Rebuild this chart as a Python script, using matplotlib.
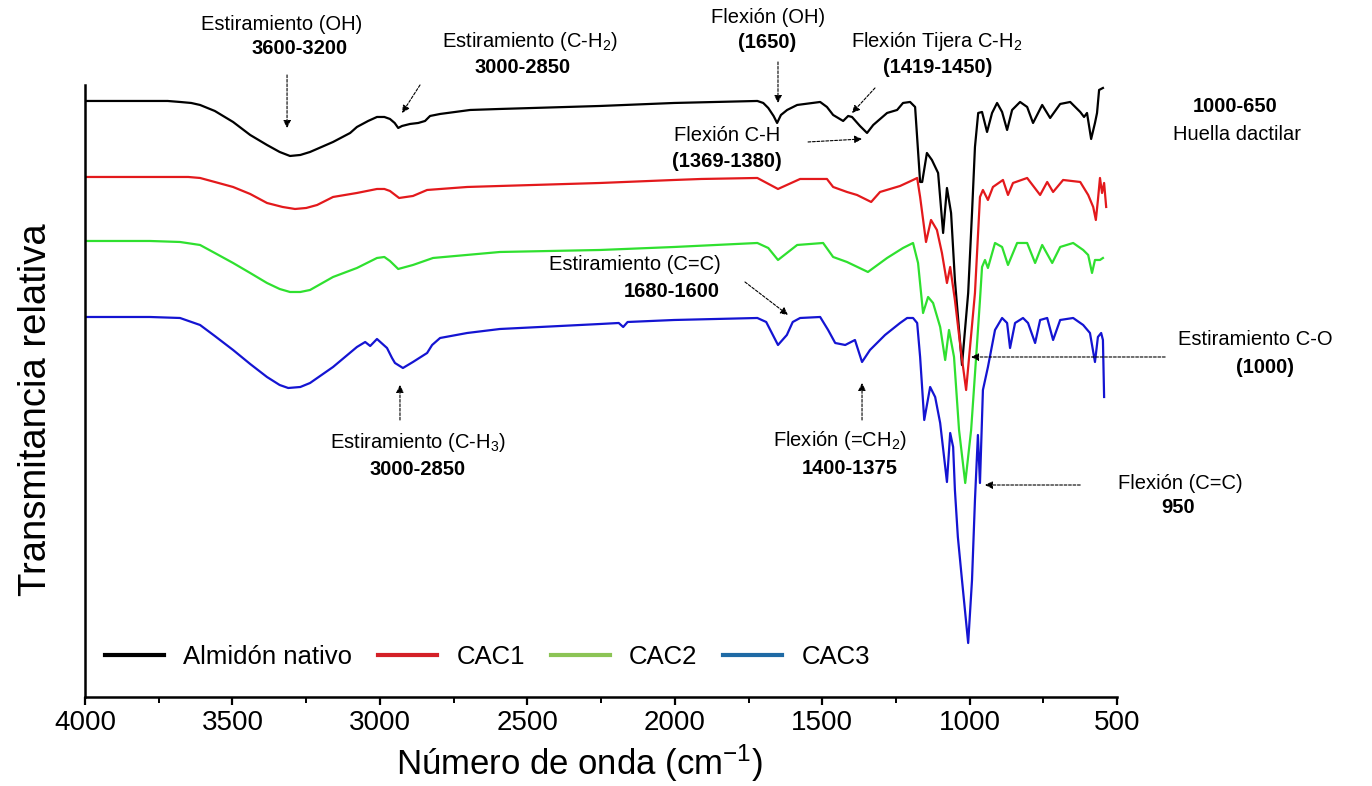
import matplotlib
matplotlib.use("Agg")
import matplotlib.pyplot as plt
from matplotlib.lines import Line2D

plt.rcParams['font.family'] = ['Liberation Sans', 'DejaVu Sans']
plt.rcParams['mathtext.fontset'] = 'custom'
plt.rcParams['mathtext.rm'] = 'Liberation Sans'
plt.rcParams['mathtext.it'] = 'Liberation Sans:italic'
plt.rcParams['mathtext.bf'] = 'Liberation Sans:bold'

# Espectros FTIR (transmitancia relativa desplazada)
wn_nativo = [4000, 3780, 3720, 3678, 3640, 3610, 3560, 3498, 3440, 3383, 3340, 3305, 3270, 3237,
             3159, 3101, 3078, 3040, 3010, 2985, 2966, 2950, 2938, 2925, 2898, 2870, 2847, 2830,
             2796, 2694, 2593, 2253, 2002, 1720, 1700, 1683, 1665, 1653, 1640, 1619, 1585, 1507,
             1484, 1463, 1429, 1412, 1399, 1372, 1348, 1327, 1280, 1246, 1226, 1202, 1185, 1168,
             1161, 1145, 1128, 1107, 1090, 1077, 1063, 1050, 1026, 1005, 992, 982, 971, 958, 941,
             924, 907, 890, 873, 856, 829, 805, 785, 754, 727, 693, 659, 625, 612, 602, 588, 575,
             568, 561, 548]
t_nativo = [596, 596, 596, 595, 594, 592, 586, 575, 562, 552, 545, 541, 542, 545,
            555, 564, 570, 576, 580, 580, 578, 574, 569, 571, 573, 574, 576, 581,
            583, 587, 588, 591, 594, 596, 594, 589, 581, 574, 582, 587, 592, 595,
            590, 582, 576, 581, 580, 571, 564, 572, 584, 587, 594, 595, 590, 515,
            515, 544, 537, 524, 464, 509, 484, 417, 332, 404, 484, 550, 584, 585, 565,
            584, 594, 585, 567, 587, 595, 590, 574, 592, 579, 593, 595, 585, 580, 584, 558, 574,
            584, 607, 609]

wn_cac1 = [4000, 3780, 3650, 3610, 3560, 3498, 3440, 3383, 3330, 3288, 3250, 3213, 3159, 3078,
           3010, 2985, 2966, 2935, 2888, 2840, 2704, 2593, 2253, 2002, 1910, 1720, 1650, 1620,
           1575, 1484, 1463, 1416, 1382, 1334, 1304, 1236, 1192, 1178, 1168, 1148, 1131, 1111,
           1094, 1077, 1066, 1050, 1030, 1012, 982, 965, 955, 938, 921, 887, 870, 853, 805, 761,
           737, 717, 683, 625, 598, 581, 572, 565, 558, 551, 544, 537]
t_cac1 = [520, 520, 520, 519, 515, 510, 503, 494, 490, 488, 489, 492, 500, 504,
          508, 508, 506, 499, 501, 507, 510, 511, 514, 517, 518, 519, 508, 512,
          518, 518, 510, 505, 502, 495, 505, 511, 517, 519, 500, 455, 477, 467,
          444, 414, 430, 397, 347, 307, 404, 500, 507, 497, 510, 517, 502, 514, 519, 502,
          515, 505, 517, 515, 502, 490, 477, 497, 519, 504, 514, 490]

wn_cac2 = [4000, 3780, 3678, 3610, 3560, 3498, 3440, 3383, 3340, 3305, 3270, 3237, 3159, 3078,
           3010, 2985, 2966, 2938, 2888, 2820, 2593, 2253, 2002, 1720, 1683, 1650, 1585, 1497,
           1463, 1416, 1345, 1280, 1226, 1192, 1175, 1158, 1141, 1124, 1100, 1083, 1070, 1053,
           1036, 1015, 995, 978, 965, 958, 948, 938, 914, 890, 870, 839, 805, 778, 754, 720,
           693, 649, 615, 598, 585, 575, 558, 548]
t_cac2 = [456, 456, 455, 452, 444, 434, 424, 414, 408, 405, 405, 407, 420, 429,
          439, 440, 436, 428, 432, 439, 445, 447, 450, 454, 449, 437, 452, 454,
          440, 435, 425, 439, 449, 454, 434, 384, 400, 394, 370, 337, 367, 340,
          267, 214, 267, 340, 397, 430, 437, 429, 454, 450, 432, 454, 454, 434, 452, 434,
          450, 454, 447, 442, 424, 437, 437, 439]

wn_cac3 = [4000, 3780, 3678, 3610, 3560, 3498, 3440, 3383, 3340, 3311, 3270, 3237, 3159, 3078,
           3050, 3033, 3010, 2976, 2959, 2949, 2922, 2888, 2840, 2823, 2796, 2704, 2593, 2253,
           2190, 2175, 2160, 2002, 1720, 1690, 1650, 1620, 1600, 1575, 1507, 1480, 1456, 1422,
           1389, 1365, 1338, 1287, 1236, 1212, 1192, 1178, 1168, 1154, 1134, 1117, 1100, 1077,
           1066, 1056, 1050, 1040, 1026, 1005, 992, 982, 972, 965, 955, 938, 914, 890, 873, 863,
           846, 819, 802, 778, 761, 737, 717, 693, 649, 615, 592, 575, 565, 554, 548, 544]
t_cac3 = [380, 380, 379, 372, 361, 347, 333, 320, 312, 309, 310, 314, 330, 350,
          355, 351, 358, 349, 339, 334, 329, 335, 344, 352, 359, 364, 368, 373,
          374, 370, 375, 377, 379, 375, 352, 362, 375, 379, 380, 367, 354, 352,
          357, 335, 347, 362, 374, 379, 379, 374, 340, 277, 310, 300, 274, 215,
          264, 250, 207, 160, 117, 54, 117, 197, 262, 214, 307, 330, 367, 379, 374, 349,
          374, 379, 374, 354, 377, 379, 357, 377, 379, 372, 364, 335, 360, 364, 357, 300]

series = ['Almidón nativo', 'CAC1', 'CAC2', 'CAC3']
line_colors = ['#000000', '#e3191c', '#2fe02f', '#1414d2']
legend_colors = ['#000000', '#d42027', '#8cc455', '#1f6aa5']

fig = plt.figure(figsize=(13.72, 7.86), dpi=100)
ax = fig.add_axes([0.062, 0.1132, 0.7522, 0.7787])

data = [(wn_nativo, t_nativo), (wn_cac1, t_cac1), (wn_cac2, t_cac2), (wn_cac3, t_cac3)]
for (wn, t), c in zip(data, line_colors):
    ax.plot(wn, t, color=c, lw=1.6, solid_joinstyle='round')

ax.set_xlim(4000, 500)
ax.set_ylim(0, 612)
ax.set_xticks([4000, 3500, 3000, 2500, 2000, 1500, 1000, 500])
ax.set_xticks([3750, 3250, 2750, 2250, 1750, 1250, 750], minor=True)
ax.set_yticks([])
for s in ['top', 'right']:
    ax.spines[s].set_visible(False)
for s in ['left', 'bottom']:
    ax.spines[s].set_linewidth(1.8)
ax.tick_params(axis='x', which='major', direction='out', length=6, width=1.6, labelsize=20, pad=3)
ax.tick_params(axis='x', which='minor', direction='out', length=4, width=1.4)
ax.set_xlabel('Número de onda (cm$^{-1}$)', fontsize=25)
ax.xaxis.set_label_coords(0.479, -0.074)
ax.set_ylabel('Transmitancia relativa', fontsize=27.5)
ax.yaxis.set_label_coords(-0.03, 0.469)

handles = [Line2D([], [], color=c, lw=3) for c in legend_colors]
ax.legend(handles, series, loc='lower left', bbox_to_anchor=(-0.003, 0.008), ncol=4,
          frameon=False, fontsize=18.5, handlelength=2.3, handletextpad=0.75,
          columnspacing=1.0)

# Anotaciones de bandas
fs = 14.5
def etiqueta(x, y, txt, bold=False, ha='center'):
    ax.text(x, y, txt, fontsize=fs, ha=ha, va='center',
            fontweight='bold' if bold else 'normal', clip_on=False)

def flecha(x0, y0, x1, y1):
    ax.annotate('', xy=(x1, y1), xytext=(x0, y0), annotation_clip=False,
                arrowprops=dict(arrowstyle='-|>', color='black', lw=0.8,
                                linestyle=(0, (2.5, 1.5)), mutation_scale=11,
                                shrinkA=0, shrinkB=0))

etiqueta(3332, 672, 'Estiramiento (OH)')
etiqueta(3271, 648, '3600-3200', bold=True)
flecha(3315, 622, 3315, 569)

etiqueta(2491, 655, 'Estiramiento (C-H$_2$)')
etiqueta(2515, 629, '3000-2850', bold=True)
flecha(2864, 612, 2925, 584)

etiqueta(1684, 679, 'Flexión (OH)')
etiqueta(1687, 654, '(1650)', bold=True)
flecha(1650, 635, 1650, 594)

etiqueta(1110, 655, 'Flexión Tijera C-H$_2$')
etiqueta(1110, 629, '(1419-1450)', bold=True)
flecha(1321, 609, 1399, 584)

etiqueta(1823, 561, 'Flexión C-H')
etiqueta(1823, 535, '(1369-1380)', bold=True)
flecha(1548, 555, 1365, 558)

etiqueta(100, 590, '1000-650', bold=True)
etiqueta(93, 562, 'Huella dactilar')

etiqueta(2135, 432, 'Estiramiento (C=C)')
etiqueta(2009, 405, '1680-1600', bold=True)
flecha(1762, 415, 1616, 382)

etiqueta(32, 357, 'Estiramiento C-O')
etiqueta(-2, 329, '(1000)', bold=True)
flecha(337, 340, 995, 340)

etiqueta(2871, 255, 'Estiramiento (C-H$_3$)')
etiqueta(2871, 228, '3000-2850', bold=True)
flecha(2932, 277, 2932, 312)

etiqueta(1439, 257, 'Flexión (=CH$_2$)')
etiqueta(1405, 229, '1400-1375', bold=True)
flecha(1365, 277, 1365, 314)

etiqueta(286, 214, 'Flexión (C=C)')
etiqueta(293, 190, '950', bold=True)
flecha(625, 212, 948, 212)

fig.savefig('out.png', dpi=100)
